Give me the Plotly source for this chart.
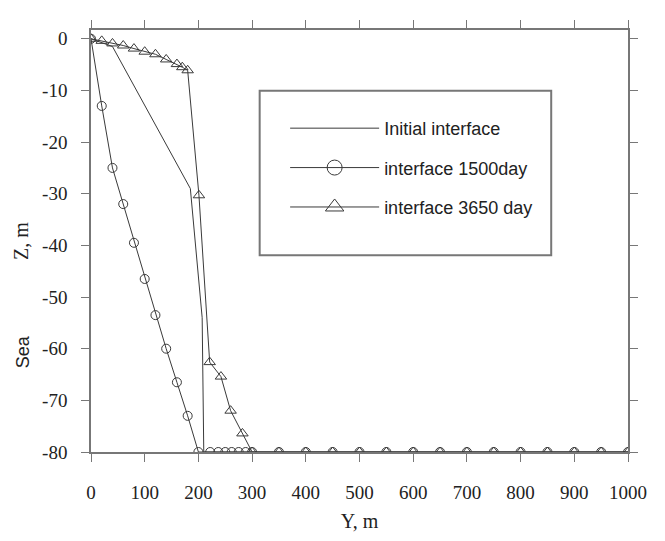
import plotly.graph_objects as go

# ---- data ----
init_y_pos = [0, 40, 185, 207, 210, 1000]
init_z = [0, -1.5, -29, -54, -80, -80]

d1500_y = [0, 20, 40, 60, 80, 100, 120, 140, 160, 180, 200,
           222, 237, 250, 262, 275, 288, 300,
           350, 400, 450, 500, 550, 600, 650, 700, 750, 800, 850, 900, 950, 1000]
d1500_z = [0, -13, -25, -32, -39.5, -46.5, -53.5, -60, -66.5, -73, -80,
           -80, -80, -80, -80, -80, -80, -80,
           -80, -80, -80, -80, -80, -80, -80, -80, -80, -80, -80, -80, -80, -80]

d3650_y = [0, 20, 40, 60, 80, 100, 120, 140, 160, 170, 180,
           201, 221, 242, 260, 282, 300,
           350, 400, 450, 500, 550, 600, 650, 700, 750, 800, 850, 900, 950, 1000]
d3650_z = [0, -0.4, -0.9, -1.3, -1.9, -2.5, -3.0, -4.0, -4.9, -5.5, -6.1,
           -30.3, -62.6, -65.4, -72, -76.4, -80,
           -80, -80, -80, -80, -80, -80, -80, -80, -80, -80, -80, -80, -80, -80]

names = ["Initial interface", "interface 1500day", "interface 3650 day"]
x_ticks = [0, 100, 200, 300, 400, 500, 600, 700, 800, 900, 1000]
x_labels = ["0", "100", "200", "300", "400", "500", "600", "700", "800", "900", "1000"]
y_ticks = [0, -10, -20, -30, -40, -50, -60, -70, -80]
y_labels = ["0", "-10", "-20", "-30", "-40", "-50", "-60", "-70", "-80"]

LC = "#3a3a3a"
fig = go.Figure()

fig.add_trace(go.Scatter(x=init_y_pos, y=init_z, mode="lines",
                         line=dict(color=LC, width=1), showlegend=False))
fig.add_trace(go.Scatter(x=d1500_y, y=d1500_z, mode="lines+markers",
                         line=dict(color=LC, width=1),
                         marker=dict(symbol="circle-open", size=9, color=LC, line=dict(width=1)),
                         showlegend=False))
fig.add_trace(go.Scatter(x=d3650_y, y=d3650_z, mode="lines+markers",
                         line=dict(color=LC, width=1),
                         marker=dict(symbol="triangle-up-open", size=10, color=LC, line=dict(width=1)),
                         showlegend=False))

# legend entries (larger symbols, as in the original legend)
fig.add_trace(go.Scatter(x=[None], y=[None], mode="lines", name=names[0],
                         legendgroup="a", line=dict(color=LC, width=1)))
fig.add_trace(go.Scatter(x=[None], y=[None], mode="lines+markers", name=names[1],
                         legendgroup="b", line=dict(color=LC, width=1),
                         marker=dict(symbol="circle-open", size=15, color=LC, line=dict(width=1))))
fig.add_trace(go.Scatter(x=[None], y=[None], mode="lines+markers", name=names[2],
                         legendgroup="c", line=dict(color=LC, width=1),
                         marker=dict(symbol="triangle-up-open", size=16, color=LC, line=dict(width=1))))

axis_common = dict(showline=True, linecolor="#777", linewidth=1.5, mirror="ticks",
                   ticks="outside", ticklen=8, tickcolor="#777", tickwidth=1.2,
                   showgrid=False, zeroline=False,
                   tickfont=dict(family="Liberation Serif", size=19, color="#222"))

fig.update_layout(
    width=657, height=533,
    margin=dict(l=82, r=37, t=15, b=87),
    paper_bgcolor="white", plot_bgcolor="white",
    xaxis=dict(range=[0, 1000], tickvals=x_ticks, ticktext=x_labels, ticklabelstandoff=14,
               title=dict(text="Y, m", font=dict(family="Liberation Serif", size=20, color="#222"),
                          standoff=12),
               **axis_common),
    yaxis=dict(range=[-80, 1.7], tickvals=y_ticks, ticktext=y_labels, ticklabelstandoff=10,
               title=dict(text="Z, m", font=dict(family="Liberation Serif", size=20, color="#222"),
                          standoff=8),
               **axis_common),
    legend=dict(x=0.3615, y=0.8105, xanchor="left", yanchor="top",
                bgcolor="rgba(0,0,0,0)", borderwidth=0,
                font=dict(family="Liberation Sans", size=18, color="#222"),
                itemwidth=89, tracegroupgap=13),
    shapes=[dict(type="rect", xref="paper", yref="paper",
                 x0=0.3141, x1=0.857, y0=0.466, y1=0.856,
                 line=dict(color="#777", width=2), fillcolor="white", layer="below")],
    annotations=[dict(text="Sea", xref="paper", yref="paper", x=-0.126, y=0.237,
                      xanchor="center", yanchor="middle",
                      textangle=-90, showarrow=False,
                      font=dict(family="Liberation Sans", size=18, color="#222"))],
)

fig.write_html("out.html")
